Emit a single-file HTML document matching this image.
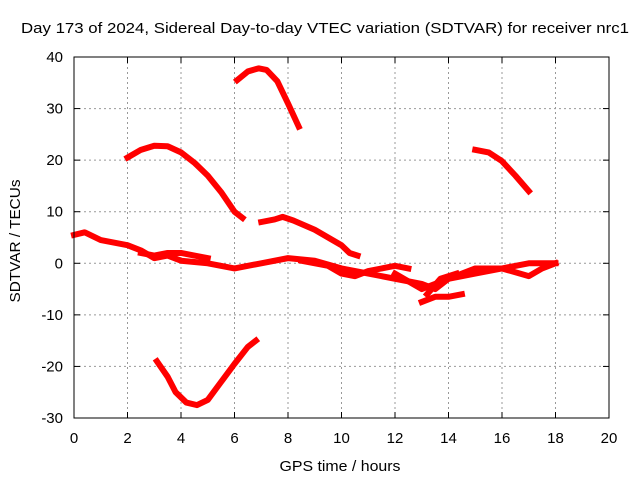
<!DOCTYPE html>
<html><head><meta charset="utf-8"><style>
body{margin:0;background:#fff}
svg{display:block;font-family:"Liberation Sans",sans-serif}
</style></head><body>
<svg id="chart" width="640" height="480" xmlns="http://www.w3.org/2000/svg">
<rect width="640" height="480" fill="#fff"/>
<g id="grid"></g>
<g id="series"></g>
<rect x="74" y="57" width="535" height="361" fill="none" stroke="#000" stroke-width="1"/>
<g id="ticks"></g>
<text x="325" y="33" font-size="15" text-anchor="middle" textLength="608" lengthAdjust="spacingAndGlyphs">Day 173 of 2024, Sidereal Day-to-day VTEC variation (SDTVAR) for receiver nrc1</text>
<text x="340" y="471" font-size="15" text-anchor="middle" textLength="121" lengthAdjust="spacingAndGlyphs">GPS time / hours</text>
<text transform="translate(20,241) rotate(-90)" font-size="15" text-anchor="middle" textLength="123" lengthAdjust="spacingAndGlyphs">SDTVAR / TECUs</text>
</svg>
<script>
const xTicks=[0,2,4,6,8,10,12,14,16,18,20];
const yTicks=[-30,-20,-10,0,10,20,30,40];
const arcTop=[[6.1,35.5],[6.5,37.2],[6.9,37.8],[7.2,37.5],[7.6,35.3],[8.0,31],[8.4,26.5]];
const arcLeft=[[2,20.5],[2.5,22],[3,22.8],[3.5,22.7],[4,21.5],[4.5,19.5],[5,17],[5.5,13.8],[6,10],[6.3,8.8]];
const arcRight=[[15,22],[15.5,21.5],[16,19.8],[16.5,17],[17,14]];
const arcBottom=[[3.1,-19],[3.5,-22],[3.8,-25],[4.2,-27],[4.6,-27.5],[5,-26.5],[5.5,-23],[6,-19.5],[6.5,-16.2],[6.8,-15]];
const arcMid=[[7,8],[7.5,8.5],[7.8,9],[8.2,8.3],[9,6.5],[9.5,5],[10,3.5],[10.3,2],[10.6,1.5]];
const bandMain=[[0,5.5],[0.4,6],[1,4.5],[2,3.5],[2.5,2.5],[3,1],[3.5,1.5],[4,0.5],[5,0],[6,-1],[7,0],[8,1],[9,0.5],[10,-1],[11,-2],[12,-3],[13,-4],[13.5,-5],[14,-3],[15,-1],[16,-1],[17,0],[18,0]];
const bandA=[[2.5,2],[3,1.5],[3.5,2],[4,2],[4.5,1.5],[5,1]];
const bandB=[[8.5,0.5],[9.5,-0.5],[10,-2],[10.5,-2.5],[11,-1.5],[12,-0.5],[12.5,-1]];
const bandC=[[13,-7.5],[13.5,-6.5],[14,-6.5],[14.5,-6]];
const bandD=[[12,-2],[13,-5],[14,-3],[15,-2],[16,-1],[17,-2.5],[17.5,-1],[18,0]];
const bandE=[[13.2,-6],[13.7,-3],[14.3,-2]];
const allSeries=[arcTop,arcLeft,arcRight,arcBottom,arcMid,bandMain,bandA,bandB,bandC,bandD,bandE];
const X=v=>74+v*535/20, Y=v=>57+(40-v)*361/70;
const NS="http://www.w3.org/2000/svg";
const grid=document.getElementById('grid'),ticks=document.getElementById('ticks'),ser=document.getElementById('series');
function mk(t,a,p){const e=document.createElementNS(NS,t);for(const k in a)e.setAttribute(k,a[k]);p.appendChild(e);return e;}
xTicks.forEach(t=>{
 if(t>0&&t<20){const g=mk('line',{x1:X(t),x2:X(t),y1:57,y2:418,stroke:'#999','stroke-dasharray':'2,3'},grid);
 
 }
 mk('line',{x1:X(t),x2:X(t),y1:418,y2:412,stroke:'#000'},ticks);
 mk('line',{x1:X(t),x2:X(t),y1:57,y2:63,stroke:'#000'},ticks);
 const l=mk('text',{x:X(t),y:443,'font-size':15,'text-anchor':'middle'},ticks);l.textContent=t;
 
 
});
yTicks.forEach(t=>{
 if(t>-30&&t<40){const g=mk('line',{x1:74,x2:609,y1:Y(t),y2:Y(t),stroke:'#999','stroke-dasharray':'2,3'},grid);
 
 }
 mk('line',{x1:74,x2:80,y1:Y(t),y2:Y(t),stroke:'#000'},ticks);
 mk('line',{x1:603,x2:609,y1:Y(t),y2:Y(t),stroke:'#000'},ticks);
 const l=mk('text',{x:63,y:Y(t)+5,'font-size':15,'text-anchor':'end'},ticks);l.textContent=t;
 
 
});
allSeries.forEach(s=>{
 const p=mk('polyline',{points:s.map(d=>X(d[0])+','+Y(d[1])).join(' '),fill:'none',stroke:'#f00','stroke-width':6,'stroke-linejoin':'round','stroke-linecap':'square'},ser);
 
 
});
</script>
</body></html>
